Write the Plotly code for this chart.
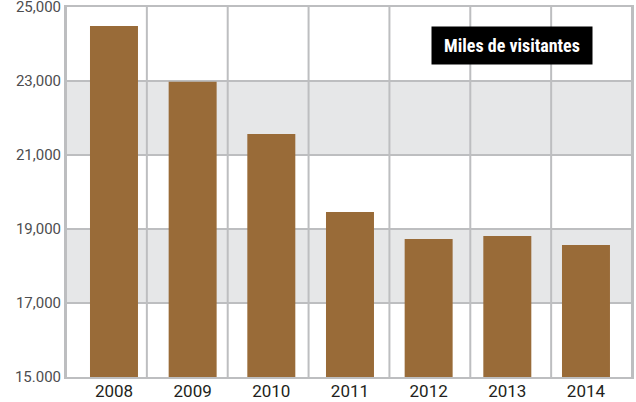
import plotly.graph_objects as go

years = ["2008", "2009", "2010", "2011", "2012", "2013", "2014"]
visitors = [24490, 22980, 21570, 19460, 18730, 18810, 18570]
y_ticks = [15000, 17000, 19000, 21000, 23000, 25000]
y_tick_labels = ["15.000", "17,000", "19,000", "21,000", "23,000", "25,000"]
bands = [(17000, 19000), (21000, 23000)]
label_text = "Miles de visitantes"

grid = "#BDBEC0"
n = len(years)

fig = go.Figure(go.Bar(x=years, y=visitors, width=0.61,
                       marker=dict(color="#996B38", line=dict(width=0)), hoverinfo="skip"))

for lo, hi in bands:
    fig.add_shape(type="rect", xref="paper", yref="y", x0=0, x1=1, y0=lo, y1=hi,
                  fillcolor="#E6E7E8", line=dict(width=0), layer="below")

# column dividers: one cell per year
for i in range(n + 1):
    fig.add_shape(type="line", xref="paper", yref="paper", x0=i / n, x1=i / n, y0=0, y1=1,
                  line=dict(color=grid, width=2), layer="below")

fig.add_annotation(text="<b>" + label_text + "</b>", xref="paper", yref="paper",
                   x=0.788, y=0.896, xanchor="center", yanchor="middle", showarrow=False,
                   bgcolor="#000000", width=158, height=35, align="center", valign="middle",
                   font=dict(family="Liberation Sans Narrow, Roboto Condensed, Roboto", size=18, color="#FFFFFF"))

fig.update_layout(
    width=636, height=402,
    margin=dict(l=66, r=4, t=7, b=25, autoexpand=False),
    paper_bgcolor="white", plot_bgcolor="white",
    showlegend=False,
    font=dict(family="Roboto", color="#222"),
    xaxis=dict(type="category", categoryorder="array", categoryarray=years,
               range=[-0.61, 6.585], showgrid=False,
               showline=True, mirror=True, linecolor=grid, linewidth=2, ticks="", zeroline=False,
               automargin=False, ticklabelstandoff=-2,
               tickfont=dict(size=17, color="#231F20"), fixedrange=True),
    yaxis=dict(range=[15000, 25000.5], tickvals=y_ticks, ticktext=y_tick_labels,
               showgrid=True, gridcolor=grid, gridwidth=2, zeroline=False,
               showline=True, mirror=True, linecolor=grid, linewidth=2, ticks="",
               automargin=False, ticklabelstandoff=0, ticklabeloverflow="allow",
               tickfont=dict(size=15, color="#4D4D4F"), fixedrange=True),
)

fig.write_html("out.html", config={"displayModeBar": False},
               post_script="document.body.style.margin='0';document.body.style.overflow='hidden';")
